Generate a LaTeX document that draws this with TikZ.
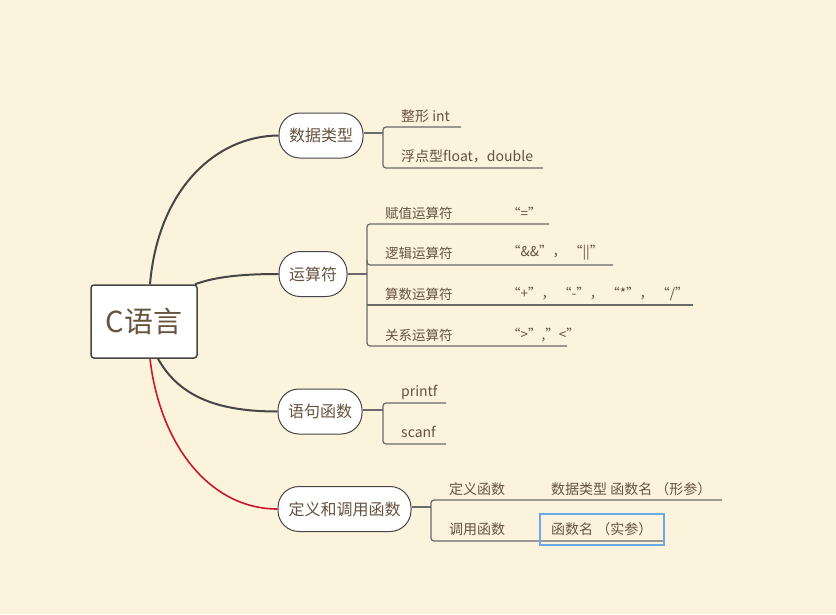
\documentclass[tikz,border=0pt]{standalone}
\usepackage{fontspec}
\setmainfont{Noto Sans CJK SC}
\definecolor{bg}{HTML}{FBF3DC}
\definecolor{txt}{HTML}{66533E}
\definecolor{dline}{HTML}{464646}
\definecolor{gline}{HTML}{6A6A6A}
\definecolor{redl}{HTML}{C8192F}
\definecolor{blueb}{HTML}{6AAAE8}
\tikzset{
  rootbox/.style={draw=dline,line width=1.5pt,fill=white,rounded corners=3pt,minimum width=106pt,minimum height=73pt,inner sep=0pt,text=txt,font=\fontsize{29}{32}\selectfont},
  topic/.style={draw=dline,line width=1pt,fill=white,rounded corners=21pt,minimum height=45pt,inner sep=0pt,text=txt,font=\fontsize{16}{18}\selectfont},
  leaf/.style={anchor=west,inner sep=0pt,text=txt,font=\fontsize{14}{16}\selectfont},
  opleaf/.style={anchor=west,inner sep=0pt,text=txt,font=\fontsize{13.5}{15}\selectfont},
  curve/.style={draw=dline,line width=2pt},
  redcurve/.style={draw=redl,line width=1.6pt},
  brk/.style={draw=gline,line width=1.2pt,rounded corners=3pt},
  uline/.style={draw=gline,line width=1.2pt},
  selbox/.style={draw=blueb,line width=2pt},
}
\begin{document}
\begin{tikzpicture}[x=1pt,y=-1pt]
\fill[bg] (0,0) rectangle (836,614);
\useasboundingbox (0,0) rectangle (836,614);

% root and topics
\node[rootbox] (root) at (144,321.5) {C语言};
\node[topic,minimum width=84pt] (t1) at (321,135.5) {数据类型};
\node[topic,minimum width=68pt] (t2) at (313,274) {运算符};
\node[topic,minimum width=84pt] (t3) at (320,411.5) {语句函数};
\node[topic,minimum width=133pt] (t4) at (344.5,509) {定义和调用函数};

% main curves
\draw[curve] ([xshift=6pt]root.north) .. controls (158,190) and (215,136) .. (t1.west);
\draw[curve] ([xshift=51pt]root.north) .. controls (215,277) and (240,274) .. (t2.west);
\draw[curve] ([xshift=14pt]root.south) .. controls (180,398) and (220,411.5) .. (t3.west);
\draw[redcurve] ([xshift=6pt]root.south) .. controls (160,445) and (210,509) .. (t4.west);

% branch 1: 数据类型
\coordinate (b1) at (383,133);
\draw[uline] (t1.east |- b1) -- (b1);
\draw[brk] (461,127) -| (383,168) -- (543,168);
\node[leaf] (l11) at (401,116) {整形 int};
\node[leaf] (l12) at (401,156) {浮点型float，double};

% branch 2: 运算符
\coordinate (b2) at (367,274);
\draw[uline] (t2.east) -- (b2);
\draw[brk] (549,224) -| (367,346) -- (567,346);
\draw[brk] (367,260) |- (613,265);
\draw[uline] (367,305) -- (693,305);
\node[opleaf] (l21) at (385,213) {赋值运算符};
\node[opleaf] (l22) at (385,253) {逻辑运算符};
\node[opleaf] (l23) at (385,294) {算数运算符};
\node[opleaf] (l24) at (385,335) {关系运算符};
\node[opleaf] (v21) at (507,213) {“=”};
\node[opleaf] (v22) at (507,253) {“\&\&”， “||”};
\node[opleaf] (v23) at (507,294) {“+”， “-”， “*”， “/”};
\node[opleaf] (v24) at (507,335) {“>”,”<”};

% branch 3: 语句函数
\coordinate (b3) at (383,410);
\draw[uline] (t3.east |- b3) -- (b3);
\draw[brk] (446,403) -| (383,444) -- (446,444);
\node[leaf] (l31) at (401,392) {printf};
\node[leaf] (l32) at (401,432) {scanf};

% branch 4: 定义和调用函数
\coordinate (b4) at (431,507);
\draw[uline] (t4.east |- b4) -- (b4);
\draw[brk] (722,500) -| (431,541) -- (663,541);
\node[leaf] (l41) at (449,489) {定义函数};
\node[leaf] (l42) at (449,529) {调用函数};
\node[leaf] (v41) at (551,489) {数据类型 函数名 （形参）};
\node[leaf] (v42) at (551,529) {函数名 （实参）};
\draw[selbox] (539.5,514) -- (663.5,514) -- (663.5,544.5) -- (539.5,544.5) -- cycle;
\end{tikzpicture}
\end{document}
